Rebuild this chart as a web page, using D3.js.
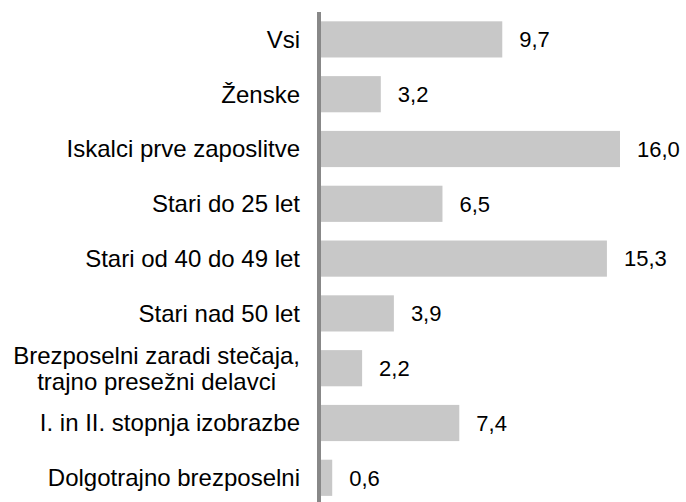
<!DOCTYPE html>
<html>
<head>
<meta charset="utf-8">
<script src="https://cdn.jsdelivr.net/npm/d3@7/dist/d3.min.js"></script>
<style>
  html, body { margin: 0; padding: 0; background: #fff; }
  svg { display: block; }
  text { font-family: "Liberation Sans", Arial, sans-serif; fill: #000; }
</style>
</head>
<body>
<svg id="chart" width="686" height="502"></svg>
<script>
const categories = [
  ["Vsi"],
  ["Ženske"],
  ["Iskalci prve zaposlitve"],
  ["Stari do 25 let"],
  ["Stari od 40 do 49 let"],
  ["Stari nad 50 let"],
  ["Brezposelni zaradi stečaja,", "trajno presežni delavci"],
  ["I. in II. stopnja izobrazbe"],
  ["Dolgotrajno brezposelni"]
];
const values = [9.7, 3.2, 16.0, 6.5, 15.3, 3.9, 2.2, 7.4, 0.6];
const valueLabels = ["9,7", "3,2", "16,0", "6,5", "15,3", "3,9", "2,2", "7,4", "0,6"];

const W = 686, H = 502;
const labelFont = 24;
const valueFont = 22;
const svg = d3.select("#chart");

const x = d3.scaleLinear().domain([0, 16]).range([321, 620]);
const y = d3.scaleBand()
  .domain(d3.range(categories.length))
  .range([12, 12 + 54.8 * categories.length])
  .paddingInner(0.34)
  .paddingOuter(0.17);

// bars
svg.selectAll("rect.bar")
  .data(values)
  .join("rect")
  .attr("class", "bar")
  .attr("x", x(0))
  .attr("y", (d, i) => y(i))
  .attr("width", d => x(d) - x(0))
  .attr("height", y.bandwidth())
  .attr("fill", "#c8c8c8");

// value labels
svg.selectAll("text.val")
  .data(values)
  .join("text")
  .attr("class", "val")
  .attr("x", d => x(d) + 17)
  .attr("y", (d, i) => y(i) + y.bandwidth() / 2)
  .attr("dy", "0.35em")
  .attr("font-size", valueFont)
  .text((d, i) => valueLabels[i]);

// category labels
const lineH = 26;
const labelRight = 300;
const g = svg.append("g");
categories.forEach((lines, i) => {
  const cy = y(i) + y.bandwidth() / 2;
  const t = g.append("text").attr("font-size", labelFont);
  if (lines.length === 1) {
    t.attr("x", labelRight).attr("y", cy).attr("dy", "0.35em")
      .attr("text-anchor", "end").text(lines[0]);
  } else {
    const tmp = g.append("text").attr("font-size", labelFont);
    let maxW = 0;
    lines.forEach(l => { tmp.text(l); maxW = Math.max(maxW, tmp.node().getComputedTextLength()); });
    tmp.remove();
    const cx = labelRight - maxW / 2;
    t.attr("text-anchor", "middle");
    lines.forEach((l, k) => {
      t.append("tspan")
        .attr("x", cx)
        .attr("y", cy + (k - (lines.length - 1) / 2) * lineH)
        .attr("dy", "0.35em")
        .text(l);
    });
  }
});

// axis line
svg.append("line")
  .attr("x1", 319).attr("x2", 319)
  .attr("y1", 12).attr("y2", H)
  .attr("stroke", "#888888")
  .attr("stroke-width", 4);
</script>
</body>
</html>
